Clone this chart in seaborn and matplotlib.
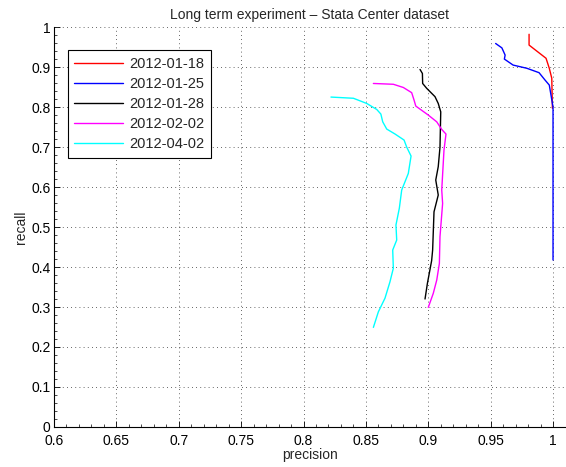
import numpy as np
import matplotlib
matplotlib.use("Agg")
import matplotlib.pyplot as plt
import seaborn as sns
from matplotlib.ticker import MultipleLocator

# precision / recall curves
p_0118 = [0.9808, 0.9808, 0.9944, 0.997, 0.999, 0.9995]
r_0118 = [0.982, 0.955, 0.922, 0.897, 0.872, 0.797]

p_0125 = [0.954, 0.959, 0.9616, 0.961, 0.968, 0.979, 0.9888, 0.9936, 0.997, 1.0, 1.0]
r_0125 = [0.959, 0.948, 0.930, 0.920, 0.905, 0.897, 0.886, 0.8675, 0.855, 0.80, 0.4175]

p_0128 = [0.8934, 0.8953, 0.8955, 0.8987, 0.9054, 0.908, 0.910, 0.9094, 0.908,
          0.906, 0.908, 0.9046, 0.9035, 0.9027, 0.8993, 0.8974]
r_0128 = [0.894, 0.884, 0.859, 0.847, 0.826, 0.809, 0.788, 0.70, 0.651,
          0.6175, 0.58, 0.538, 0.4425, 0.416, 0.359, 0.32]

p_0202 = [0.856, 0.872, 0.880, 0.8867, 0.8886, 0.890, 0.900, 0.9068, 0.9108,
          0.9142, 0.9126, 0.9108, 0.9115, 0.9094, 0.9089, 0.9068, 0.904, 0.900]
r_0202 = [0.859, 0.857, 0.849, 0.836, 0.8175, 0.8025, 0.78, 0.763, 0.744,
          0.7325, 0.6925, 0.5925, 0.559, 0.476, 0.409, 0.3675, 0.334, 0.299]

p_0402 = [0.822, 0.840, 0.8507, 0.8587, 0.862, 0.8635, 0.8667, 0.8734, 0.8806,
          0.8827, 0.8862, 0.884, 0.8787, 0.8768, 0.8741, 0.8747, 0.8715, 0.872,
          0.8693, 0.8653, 0.860, 0.856]
r_0402 = [0.825, 0.822, 0.809, 0.794, 0.7825, 0.763, 0.745, 0.7325, 0.7175,
          0.70, 0.6775, 0.634, 0.5925, 0.547, 0.505, 0.4675, 0.4425, 0.397,
          0.363, 0.322, 0.288, 0.249]

curvas = [
    ('2012-01-18', p_0118, r_0118, 'red'),
    ('2012-01-25', p_0125, r_0125, 'blue'),
    ('2012-01-28', p_0128, r_0128, 'black'),
    ('2012-02-02', p_0202, r_0202, 'magenta'),
    ('2012-04-02', p_0402, r_0402, 'cyan'),
]

sns.set_theme(style="white")
plt.rcParams['font.family'] = ['Liberation Sans', 'DejaVu Sans']
plt.rcParams['font.size'] = 10

fig = plt.figure(figsize=(5.66, 4.67), dpi=100)
ax = fig.add_axes([0.0954, 0.0857, 0.9046, 0.8563])

for nome, p, r, cor in curvas:
    sns.lineplot(x=p, y=r, ax=ax, color=cor, label=nome, sort=False,
                 estimator=None, linewidth=1.0)

ax.set_xlim(0.6, 1.0104)
ax.set_ylim(0, 1)
ax.set_xticks(np.arange(0.6, 1.001, 0.05))
ax.set_yticks(np.arange(0, 1.001, 0.1))
ax.set_xticklabels(['0.6', '0.65', '0.7', '0.75', '0.8', '0.85', '0.9', '0.95', '1'])
ax.set_yticklabels(['0', '0.1', '0.2', '0.3', '0.4', '0.5', '0.6', '0.7', '0.8', '0.9', '1'])
ax.xaxis.set_minor_locator(MultipleLocator(0.01))
ax.yaxis.set_minor_locator(MultipleLocator(0.02))
ax.tick_params(which='major', direction='in', length=4, width=0.6, colors='black',
               labelsize=10, pad=2)
ax.tick_params(which='minor', direction='in', length=2, width=0.5, colors='black')
ax.tick_params(axis='x', which='both', bottom=True, pad=5)
ax.tick_params(axis='y', which='both', left=True, pad=2.5)

ax.grid(True, which='major', linestyle=(0, (1, 4)), color='black', linewidth=0.6, alpha=0.8)

ax.spines['top'].set_visible(False)
ax.spines['right'].set_visible(False)
for s in ['left', 'bottom']:
    ax.spines[s].set_color('black')
    ax.spines[s].set_linewidth(0.8)

ax.set_xlabel('precision', fontsize=10, labelpad=0)
ax.set_ylabel('recall', fontsize=10, labelpad=2)
ax.set_title('Long term experiment \u2013 Stata Center dataset', fontsize=10, pad=6)

leg = ax.legend(loc='upper left', bbox_to_anchor=(0.027, 0.9425), frameon=True,
                fancybox=False, framealpha=1, edgecolor='black', fontsize=10.5,
                handlelength=3.3, borderpad=0.45, labelspacing=0.42,
                handletextpad=0.45, borderaxespad=0.0)
leg.get_frame().set_linewidth(0.8)

fig.savefig('out.png', dpi=100)
